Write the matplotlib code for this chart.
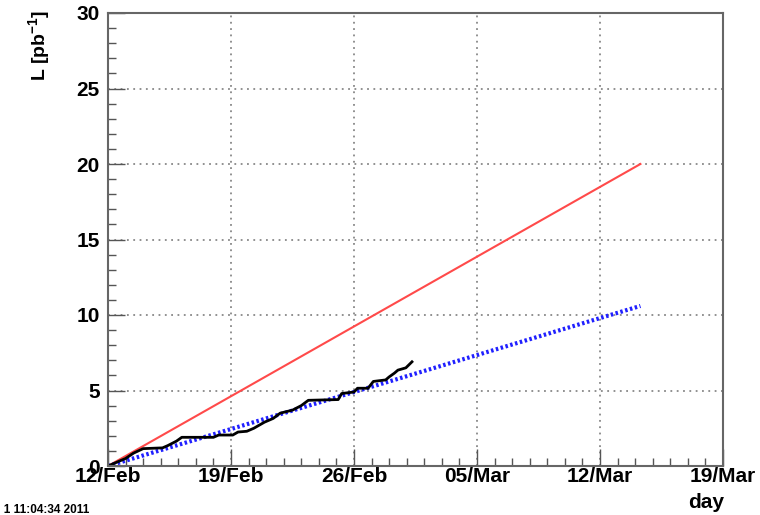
import matplotlib.pyplot as plt
import numpy as np
from matplotlib.ticker import MultipleLocator

plt.rcParams['font.family'] = ['Liberation Sans', 'DejaVu Sans']
plt.rcParams['font.weight'] = 'bold'
plt.rcParams['mathtext.fontset'] = 'custom'
plt.rcParams['mathtext.rm'] = 'Liberation Sans:bold'
plt.rcParams['mathtext.bf'] = 'Liberation Sans:bold'

# days since 12/Feb and integrated luminosity in pb^-1
days = [0.0, 1.0, 1.45, 2.0, 3.1, 3.4, 3.9, 4.2, 6.0, 6.3, 7.1, 7.4, 7.9, 8.3, 8.9,
        9.4, 9.8, 10.5, 11.0, 11.4, 13.1, 13.3, 14.0, 14.2, 14.8, 15.1, 15.8, 16.0,
        16.3, 16.5, 16.95, 17.3]
lumi = [0.0, 0.5, 0.85, 1.15, 1.2, 1.35, 1.65, 1.9, 1.9, 2.05, 2.05, 2.25, 2.3, 2.5, 2.9,
        3.15, 3.5, 3.7, 4.0, 4.35, 4.4, 4.8, 4.9, 5.15, 5.15, 5.6, 5.7, 5.9,
        6.15, 6.35, 6.5, 6.9]

# target and projection lines
line_days = [0.0, 30.3]
target = [0.0, 20.0]
projection = [0.0, 10.6]

tick_days = [0, 7, 14, 21, 28, 35]
tick_labels = ['12/Feb', '19/Feb', '26/Feb', '05/Mar', '12/Mar', '19/Mar']

fig = plt.figure(figsize=(7.6, 5.15), dpi=100)
ax = fig.add_axes([108 / 760, 49 / 515, 615 / 760, 453 / 515])

ax.plot(line_days, target, color='#ff4a4a', lw=1.5)
ax.plot(line_days, projection, color='#2020ff', lw=3, ls=(0, (0.6, 0.6)))
ax.plot(days, lumi, color='black', lw=2)

ax.set_xlim(0, 35)
ax.set_ylim(0, 30)
ax.set_xticks(tick_days)
ax.set_xticklabels(tick_labels)
ax.xaxis.set_minor_locator(MultipleLocator(1))
ax.yaxis.set_major_locator(MultipleLocator(5))
ax.yaxis.set_minor_locator(MultipleLocator(1))

ax.grid(True, which='major', color='#888888', ls=(0, (1, 2.5)), lw=1.3)
ax.tick_params(which='both', direction='in', colors='#555555', labelcolor='black',
               labelsize=15, top=False, right=False)
ax.tick_params(which='major', length=12, width=1)
ax.tick_params(which='minor', length=6, width=1)
ax.tick_params(axis='x', pad=1)
ax.tick_params(axis='y', pad=6)
for s in ax.spines.values():
    s.set_color('#666666')
    s.set_linewidth(1.5)

fig.text(40 / 760, 1 - 45 / 515, 'L [pb$^{-1}$]', rotation=90, ha='center', va='center',
         fontsize=14, fontweight='bold')
fig.text(706 / 760, 1 - 503 / 515, 'day', ha='center', va='center', fontsize=15, fontweight='bold')
fig.text(89 / 760, 1 - 510 / 515, 'Tue Mar  1 11:04:34 2011', ha='right', va='center',
         fontsize=8.5, fontweight='bold')

fig.savefig('out.png', dpi=100)
